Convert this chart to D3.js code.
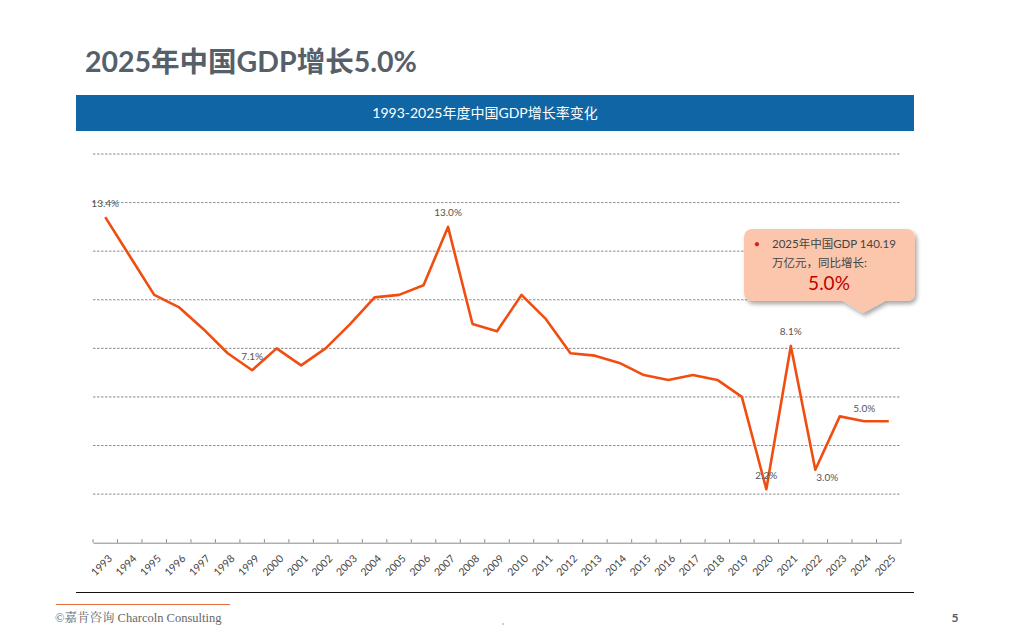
<!DOCTYPE html>
<html><head><meta charset="utf-8">
<script src="https://cdn.jsdelivr.net/npm/d3@7/dist/d3.min.js"></script>
<style>body{margin:0;background:#fff;}svg{display:block;}</style>
</head><body>
<svg id="c" width="1009" height="630"></svg>
<script>
const years = ["1993","1994","1995","1996","1997","1998","1999","2000","2001","2002","2003","2004","2005","2006","2007","2008","2009","2010","2011","2012","2013","2014","2015","2016","2017","2018","2019","2020","2021","2022","2023","2024","2025"];
const growth = [13.4,11.8,10.2,9.7,8.8,7.8,7.1,8.0,7.3,8.0,9.0,10.1,10.2,10.6,13.0,9.0,8.7,10.2,9.2,7.8,7.7,7.4,6.9,6.7,6.9,6.7,6.0,2.2,8.1,3.0,5.2,5.0,5.0];
const yTicks = [2,4,6,8,10,12,14,16];
const labeled = [
  {year:"1993", text:"13.4%", dx:0, dy:-14},
  {year:"1999", text:"7.1%", dx:0, dy:-14},
  {year:"2007", text:"13.0%", dx:0, dy:-14},
  {year:"2020", text:"2.2%", dx:0, dy:-14},
  {year:"2021", text:"8.1%", dx:0, dy:-14},
  {year:"2022", text:"3.0%", dx:12, dy:8},
  {year:"2024", text:"5.0%", dx:0, dy:-13}
];
const titleText = "2025年中国GDP增长5.0%";
const headerText = "1993-2025年度中国GDP增长率变化";
const calloutLines = ["2025年中国GDP 140.19","万亿元，同比增长:"];
const calloutValue = "5.0%";

const svg = d3.select("#c");
const font = "Lato, 'Noto Sans CJK SC', sans-serif";

// title
svg.append("text").attr("x",85).attr("y",72).attr("font-family",font)
  .attr("font-weight","bold").attr("font-size",28.5).attr("fill","#56606b").text(titleText);

// header bar
svg.append("rect").attr("x",76).attr("y",95).attr("width",838).attr("height",36).attr("fill","#1066a5");
svg.append("text").attr("x",485).attr("y",118).attr("text-anchor","middle").attr("font-family",font)
  .attr("font-size",14).attr("fill","#fff").text(headerText);

const x = d3.scaleBand().domain(years).range([93,901]);
const y = d3.scaleLinear().domain([0,16]).range([542.7,154]);
const cx = d => x(d) + x.bandwidth()/2;

// gridlines
svg.append("g").selectAll("line").data(yTicks).join("line")
  .attr("x1",93).attr("x2",901).attr("y1",d=>y(d)).attr("y2",d=>y(d))
  .attr("stroke","#6e6e6e").attr("stroke-width",0.8).attr("stroke-dasharray","2.5,1.5");

// x axis
const xa = svg.append("g").attr("transform",`translate(0,${y(0)})`)
  .call(d3.axisBottom(x).tickSize(0).tickFormat(d=>d));
xa.select(".domain").attr("stroke","#8a8a8a");
xa.selectAll(".tick text").attr("font-family",font).attr("font-size",10.5).attr("fill","#444")
  .attr("text-anchor","end").attr("transform","translate(5,14) rotate(-45)").attr("dy","0.35em").attr("y",0);
// boundary ticks
const bounds = years.map(d=>x(d)).concat([901]);
svg.append("g").selectAll("line").data(bounds).join("line")
  .attr("x1",d=>d).attr("x2",d=>d).attr("y1",y(0)-3.5).attr("y2",y(0))
  .attr("stroke","#8a8a8a").attr("stroke-width",1);

// line
const line = d3.line().x((d,i)=>cx(years[i])).y(d=>y(d));
svg.append("path").datum(growth).attr("d",line).attr("fill","none")
  .attr("stroke","#f04e10").attr("stroke-width",2.6).attr("stroke-linejoin","round");

// labels
svg.append("g").selectAll("text").data(labeled).join("text")
  .attr("x",d=>cx(d.year)+d.dx).attr("y",d=>y(growth[years.indexOf(d.year)])+d.dy)
  .attr("dy","0.35em").attr("text-anchor","middle").attr("font-family",font)
  .attr("font-size",10).attr("fill","#555").text(d=>d.text);

// callout
const defs = svg.append("defs");
const f = defs.append("filter").attr("id","sh").attr("x","-10%").attr("y","-10%").attr("width","130%").attr("height","140%");
f.append("feDropShadow").attr("dx",2).attr("dy",3).attr("stdDeviation",2).attr("flood-color","#000").attr("flood-opacity",0.35);
const bx=744, by=229, bw=171, bh=72, r=9;
const p = d3.path();
p.moveTo(bx+r,by);
p.lineTo(bx+bw-r,by); p.quadraticCurveTo(bx+bw,by,bx+bw,by+r);
p.lineTo(bx+bw,by+bh-r); p.quadraticCurveTo(bx+bw,by+bh,bx+bw-r,by+bh);
p.lineTo(885,by+bh); p.lineTo(863,313); p.lineTo(843,by+bh);
p.lineTo(bx+r,by+bh); p.quadraticCurveTo(bx,by+bh,bx,by+bh-r);
p.lineTo(bx,by+r); p.quadraticCurveTo(bx,by,bx+r,by);
p.closePath();
svg.append("path").attr("d",p.toString()).attr("fill","#fcc6ac").attr("filter","url(#sh)");
svg.append("text").attr("x",757).attr("y",248).attr("text-anchor","middle").attr("font-family",font)
  .attr("font-size",11).attr("fill","#d62020").text("•");
svg.append("g").selectAll("text").data(calloutLines).join("text")
  .attr("x",772).attr("y",(d,i)=>248+i*19).attr("font-family",font).attr("font-size",11.5)
  .attr("fill","#444").text(d=>d);
svg.append("text").attr("x",829).attr("y",290).attr("text-anchor","middle").attr("font-family",font)
  .attr("font-size",19).attr("fill","#c00000").text(calloutValue);

// bottom lines and footer
svg.append("line").attr("x1",76).attr("x2",914).attr("y1",592.5).attr("y2",592.5).attr("stroke","#111").attr("stroke-width",1.2);
svg.append("line").attr("x1",56).attr("x2",230).attr("y1",604.5).attr("y2",604.5).attr("stroke","#e07038").attr("stroke-width",1.2);
svg.append("text").attr("x",55).attr("y",622).attr("font-family","'Liberation Serif','Noto Serif CJK SC','Noto Sans CJK SC',serif")
  .attr("font-size",12.5).attr("fill","#666").text("©嘉肯咨询  Charcoln Consulting");
svg.append("text").attr("x",955).attr("y",622).attr("text-anchor","middle").attr("font-family",font)
  .attr("font-weight","bold").attr("font-size",12).attr("fill","#56606b").text("5");
svg.append("circle").attr("cx",503).attr("cy",624).attr("r",1).attr("fill","#bbb");
</script>
</body></html>
